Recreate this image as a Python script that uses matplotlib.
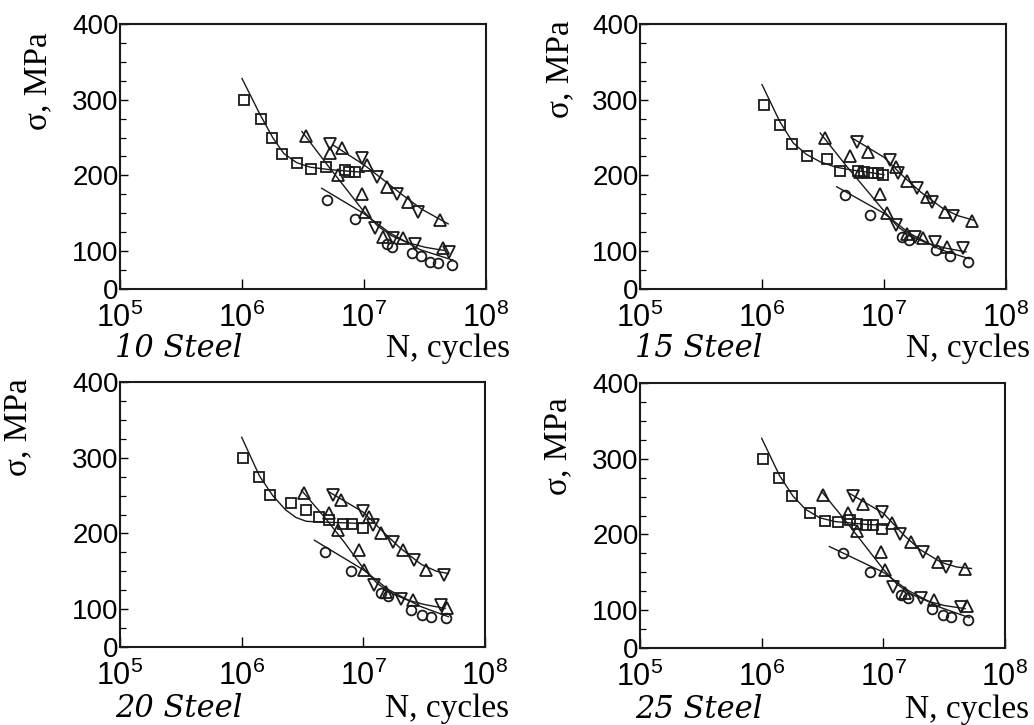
import numpy as np
import matplotlib
matplotlib.use('Agg')
import matplotlib.pyplot as plt

plt.rcParams['font.family'] = 'Liberation Sans'
plt.rcParams['mathtext.fontset'] = 'custom'
plt.rcParams['mathtext.rm'] = 'Liberation Sans'
plt.rcParams['mathtext.it'] = 'Liberation Sans:italic'
plt.rcParams['mathtext.default'] = 'regular'

# ---- data (order: 10, 15, 20, 25 steel) ----
titles = ['10 Steel', '15 Steel', '20 Steel', '25 Steel']

# squares
sq_N = [[1.04e6, 1.42e6, 1.75e6, 2.14e6, 2.8e6, 3.65e6, 4.85e6, 6.98e6, 7.6e6, 8.4e6],
        [1.04e6, 1.41e6, 1.75e6, 2.32e6, 3.39e6, 4.36e6, 6.16e6, 6.9e6, 7.9e6, 9.0e6, 9.9e6],
        [1.02e6, 1.39e6, 1.72e6, 2.55e6, 3.35e6, 4.36e6, 5.25e6, 6.76e6, 8.0e6, 9.86e6],
        [1.03e6, 1.4e6, 1.77e6, 2.5e6, 3.31e6, 4.26e6, 5.3e6, 6.1e6, 7.2e6, 8.3e6, 9.66e6]]
sq_s = [[300, 275, 250, 228, 217, 208, 211, 207, 204, 205],
        [293, 267, 242, 226, 222, 206, 206, 205, 203, 203, 200],
        [300, 275, 251, 240, 231, 222, 218, 213, 212, 207],
        [300, 275, 251, 228, 218, 217, 219, 214, 212, 212, 207]]
sq_fit_N = [[1.0e6, 1.4e6, 1.8e6, 2.2e6, 2.8e6, 3.6e6, 5e6, 7e6, 1.0e7],
            [1.0e6, 1.4e6, 1.8e6, 2.3e6, 3.0e6, 4.0e6, 5.5e6, 7.5e6, 1.0e7],
            [1.0e6, 1.4e6, 1.8e6, 2.3e6, 2.8e6, 3.4e6, 4.5e6, 7e6, 1.0e7],
            [1.0e6, 1.4e6, 1.8e6, 2.3e6, 3.0e6, 4.0e6, 5.5e6, 7.5e6, 1.1e7]]
sq_fit_s = [[328, 281, 249, 229, 217, 211, 208, 206, 204],
            [320, 271, 243, 228, 218, 211, 207, 204, 201],
            [327, 276, 250, 231, 221, 216, 215, 214, 213],
            [327, 278, 251, 233, 222, 217, 215, 213, 212]]

# up triangles, steep branch
up_N = [[3.35e6, 5.26e6, 6.17e6, 9.6e6, 1.02e7],
        [3.28e6, 5.25e6, 6.35e6, 9.27e6, 1.05e7],
        [3.28e6, 5.25e6, 6.17e6, 9.27e6, 1.02e7],
        [3.2e6, 5.13e6, 6.03e6, 9.5e6, 1.03e7]]
up_s = [[252, 230, 201, 176, 152],
        [250, 226, 205, 176, 150],
        [253, 227, 205, 178, 152],
        [252, 228, 204, 177, 153]]
up_fit_N = [[3.1e6, 5e6, 7e6, 1.0e7, 1.3e7, 1.7e7, 2.3e7, 3.2e7, 4.5e7],
            [3.0e6, 5e6, 7e6, 1.0e7, 1.3e7, 1.7e7, 2.3e7, 3.2e7, 4.7e7],
            [3.1e6, 5e6, 7e6, 1.0e7, 1.3e7, 1.7e7, 2.3e7, 3.2e7, 4.7e7],
            [3.1e6, 5e6, 7e6, 1.0e7, 1.3e7, 1.7e7, 2.3e7, 3.2e7, 4.7e7]]
up_fit_s = [[258, 214, 184, 152, 133, 120, 111, 105, 101],
            [256, 211, 183, 153, 132, 119, 110, 104, 99],
            [257, 218, 188, 154, 134, 121, 112, 106, 101],
            [257, 216, 186, 154, 134, 121, 112, 106, 102]]

# lower cluster of triangles
lo_N = [[1.23e7, 1.44e7, 1.74e7, 2.1e7, 2.62e7, 4.47e7, 5.0e7],
        [1.26e7, 1.53e7, 1.8e7, 2.09e7, 2.62e7, 3.27e7, 4.47e7],
        [1.23e7, 1.53e7, 2.04e7, 2.54e7, 4.33e7, 4.9e7],
        [1.2e7, 1.5e7, 2.04e7, 2.63e7, 4.37e7, 4.9e7]]
lo_s = [[130, 119, 117, 117, 110, 104, 99],
        [134, 123, 119, 117, 112, 106, 104],
        [132, 123, 114, 112, 105, 101],
        [131, 122, 116, 113, 104, 106]]

# down triangles, upper branch
dn_N = [[5.26e6, 6.56e6, 9.55e6, 1.05e7, 1.27e7, 1.53e7, 1.85e7, 2.3e7, 2.79e7, 4.2e7],
        [5.97e6, 7.45e6, 1.12e7, 1.26e7, 1.31e7, 1.53e7, 1.85e7, 2.24e7, 2.46e7, 3.16e7, 3.7e7, 5.22e7],
        [5.6e6, 6.56e6, 9.86e6, 1.12e7, 1.19e7, 1.4e7, 1.74e7, 2.1e7, 2.62e7, 3.27e7, 4.6e7],
        [5.66e6, 6.84e6, 9.66e6, 1.17e7, 1.37e7, 1.7e7, 2.12e7, 2.8e7, 3.3e7, 4.68e7]]
dn_s = [[242, 236, 223, 214, 198, 185, 176, 165, 152, 141],
        [244, 231, 220, 211, 203, 192, 183, 172, 165, 152, 146, 140],
        [251, 244, 229, 222, 211, 200, 189, 178, 165, 152, 145],
        [251, 240, 229, 215, 201, 190, 177, 164, 157, 154]]
dn_fit_N = [[5.6e6, 1e7, 1.5e7, 2e7, 3e7, 4.9e7],
            [5.4e6, 1e7, 1.5e7, 2e7, 3e7, 4e7, 5.4e7],
            [5.2e6, 1e7, 1.5e7, 2e7, 3e7, 4e7, 5e7],
            [5.3e6, 1e7, 1.5e7, 2e7, 3e7, 4e7, 5.3e7]]
dn_fit_s = [[240, 214, 192, 176, 155, 136],
            [250, 224, 196, 178, 157, 147, 141],
            [255, 228, 200, 181, 159, 150, 147],
            [254, 228, 198, 180, 163, 157, 155]]

# circles
ci_N = [[4.94e6, 8.4e6, 1.53e7, 1.7e7, 2.46e7, 2.96e7, 3.45e7, 4.06e7, 5.25e7],
        [4.79e6, 7.67e6, 1.4e7, 1.6e7, 2.69e7, 3.47e7, 4.9e7],
        [4.8e6, 7.9e6, 1.4e7, 1.6e7, 2.46e7, 3.06e7, 3.6e7, 4.76e7],
        [4.68e6, 7.76e6, 1.41e7, 1.6e7, 2.5e7, 3.1e7, 3.6e7, 5.0e7]]
ci_s = [[167, 143, 110, 106, 97, 93, 86, 84, 82],
        [174, 148, 119, 115, 101, 93, 86],
        [176, 150, 121, 117, 99, 92, 90, 88],
        [175, 151, 120, 116, 102, 94, 91, 87]]
ci_fit_N = [[4.5e6, 9.9e6, 1.63e7, 2.88e7, 5.4e7],
            [4.1e6, 1e7, 1.6e7, 2.9e7, 5e7],
            [3.96e6, 1e7, 1.6e7, 2.9e7, 5e7],
            [3.6e6, 1e7, 1.6e7, 2.9e7, 5.1e7]]
ci_fit_s = [[183, 150, 124, 102, 88],
            [185, 150, 124, 102, 90],
            [191, 152, 126, 104, 90],
            [184, 150, 126, 104, 90]]

ytick_pos = [50, 100, 200, 300, 400]
ytick_lab = ['0', '100', '200', '300', '400']
xtick_pos = [1e5, 1e6, 1e7, 1e8]
xtick_lab = [r'$10^{5}$', r'$10^{6}$', r'$10^{7}$', r'$10^{8}$']

# ---- layout (figure fractions) ----
W, H = 1034, 725
boxes = [(120, 24, 366, 265), (640, 24, 366, 265),
         (120, 382, 365, 265), (640, 383, 365, 265)]
ylab_xy = [(-0.183, 0.785), (-0.178, 0.83), (-0.238, 0.83), (-0.183, 0.76)]
title_y = [-0.226, -0.226, -0.232, -0.232]

fig = plt.figure(figsize=(W / 100, H / 100), dpi=100)
K = '#1a1a1a'

for i in range(4):
    x0, y0, w, h = boxes[i]
    ax = fig.add_axes([x0 / W, 1 - (y0 + h) / H, w / W, h / H])
    ax.set_xscale('log')
    ax.set_xlim(1e5, 1e8)
    ax.set_ylim(50, 400)

    # fitted lines
    for N, s in [(sq_fit_N[i], sq_fit_s[i]), (up_fit_N[i], up_fit_s[i]),
                 (dn_fit_N[i], dn_fit_s[i]), (ci_fit_N[i], ci_fit_s[i])]:
        ax.plot(N, s, '-', color=K, lw=1.0)

    mk = dict(ls='none', mfc='none', mec=K, mew=1.3)
    ax.plot(sq_N[i], sq_s[i], marker='s', ms=6.5, **mk)
    ax.plot(up_N[i], up_s[i], marker='^', ms=8, **mk)
    ax.plot(lo_N[i][::2], lo_s[i][::2], marker='v', ms=8, **mk)
    ax.plot(lo_N[i][1::2], lo_s[i][1::2], marker='^', ms=8, **mk)
    ax.plot(dn_N[i][::2], dn_s[i][::2], marker='v', ms=8, **mk)
    ax.plot(dn_N[i][1::2], dn_s[i][1::2], marker='^', ms=8, **mk)
    ax.plot(ci_N[i], ci_s[i], marker='o', ms=7, **mk)

    ax.set_xticks(xtick_pos)
    ax.set_xticklabels(xtick_lab)
    ax.xaxis.set_minor_locator(matplotlib.ticker.LogLocator(base=10, subs=np.arange(2, 10)))
    ax.xaxis.set_minor_formatter(matplotlib.ticker.NullFormatter())
    ax.set_yticks(ytick_pos)
    ax.set_yticklabels(ytick_lab)
    ax.set_yticks(np.arange(50, 401, 25), minor=True)

    ax.tick_params(axis='x', which='major', direction='in', length=7, width=1,
                   labelsize=22, pad=10, top=False)
    ax.tick_params(axis='x', which='minor', direction='in', length=4, width=0.9, top=False)
    ax.tick_params(axis='y', which='major', direction='in', length=6, width=1,
                   labelsize=20, pad=1, right=False)
    ax.tick_params(axis='y', which='minor', direction='in', length=4, width=0.9, right=False)
    for sp in ax.spines.values():
        sp.set_linewidth(1.5)
        sp.set_color(K)

    ax.set_ylabel('σ, MPa', family='Liberation Serif', fontsize=24)
    ax.yaxis.set_label_coords(*ylab_xy[i])
    ax.text(0.16, title_y[i], titles[i], transform=ax.transAxes, ha='center', va='center',
            family='DejaVu Serif', style='italic', fontsize=22)
    ax.text(1.066, title_y[i], 'N, cycles', transform=ax.transAxes, ha='right', va='center',
            family='Liberation Serif', fontsize=24)

fig.savefig('out.png', dpi=100)
